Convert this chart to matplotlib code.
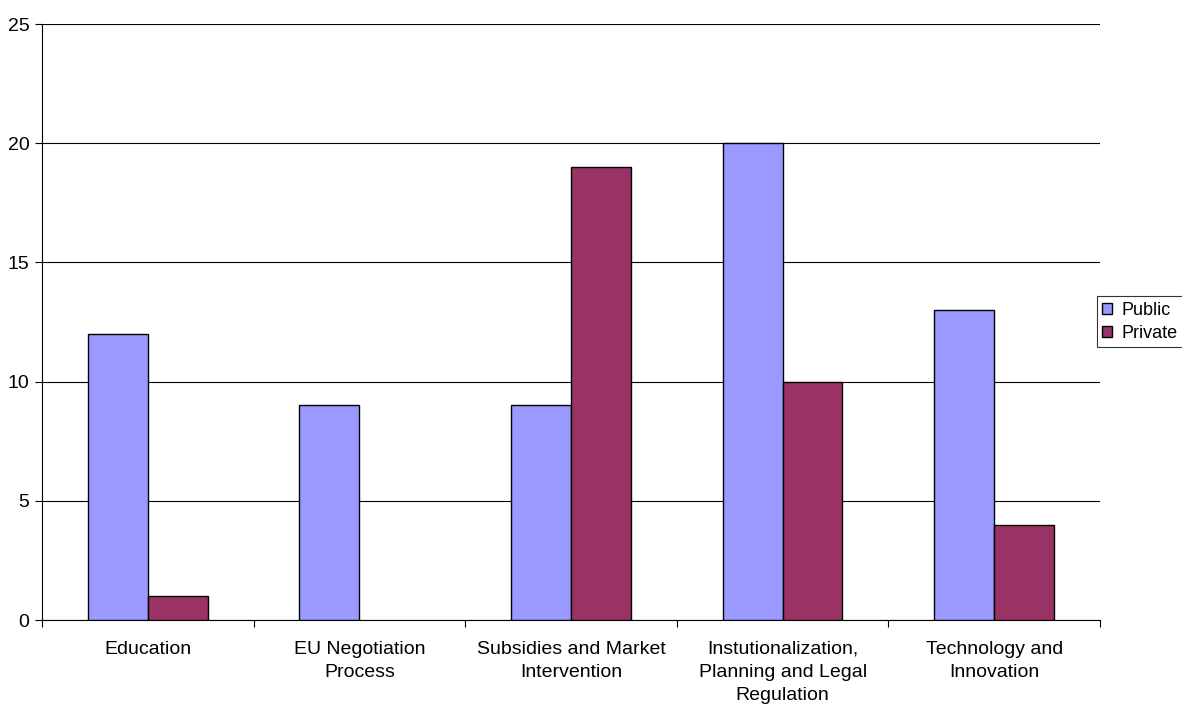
import matplotlib.pyplot as plt
import numpy as np

plt.rcParams['font.family'] = ['Liberation Sans', 'DejaVu Sans']

# categories and counts per sector
categories = ['Education', 'EU Negotiation\nProcess', 'Subsidies and Market\nIntervention',
              'Instutionalization,\nPlanning and Legal\nRegulation', 'Technology and\nInnovation']
public = [12, 9, 9, 20, 13]
private = [1, 0, 19, 10, 4]

fig = plt.figure(figsize=(11.82, 7.04), dpi=100)
ax = fig.add_axes([0.0355, 0.1193, 0.8951, 0.8466])

x = np.arange(len(categories))
w = 0.283
ax.bar(x - w / 2, public, w, color='#9999FF', edgecolor='black', linewidth=1, label='Public', zorder=3)
# empty categories get no outline
ax.bar(x + w / 2, private, w, color='#993366', edgecolor=['black' if v else 'none' for v in private],
       linewidth=1, label='Private', zorder=3)

ax.set_xlim(-0.5, len(categories) - 0.5)
ax.set_ylim(0, 25)
ax.set_yticks(range(0, 26, 5))
ax.yaxis.grid(True, color='black', linewidth=0.8)
ax.set_axisbelow(True)

# category labels centred, tick marks on the boundaries
ax.set_xticks(x)
ax.set_xticklabels(categories, fontsize=14)
for lbl in ax.get_xticklabels():
    lbl.set_linespacing(1.45)
ax.tick_params(axis='x', length=0, pad=15)
ax.set_xticks(np.arange(-0.5, len(categories)), minor=True)
ax.tick_params(axis='x', which='minor', length=5, color='black', width=0.8)
ax.tick_params(axis='y', labelsize=14, length=5, width=0.8, pad=4)

for s in ['top', 'right']:
    ax.spines[s].set_visible(False)
for s in ['left', 'bottom']:
    ax.spines[s].set_color('black')
    ax.spines[s].set_linewidth(0.8)

leg = fig.legend(loc='center left', bbox_to_anchor=(0.928, 0.543), fontsize=13,
                 frameon=True, fancybox=False, edgecolor='black', handlelength=0.55,
                 handleheight=0.55, handletextpad=0.5, borderpad=0.3, labelspacing=0.35,
                 borderaxespad=0)
leg.get_frame().set_linewidth(0.8)

fig.savefig('out.png', dpi=100)
